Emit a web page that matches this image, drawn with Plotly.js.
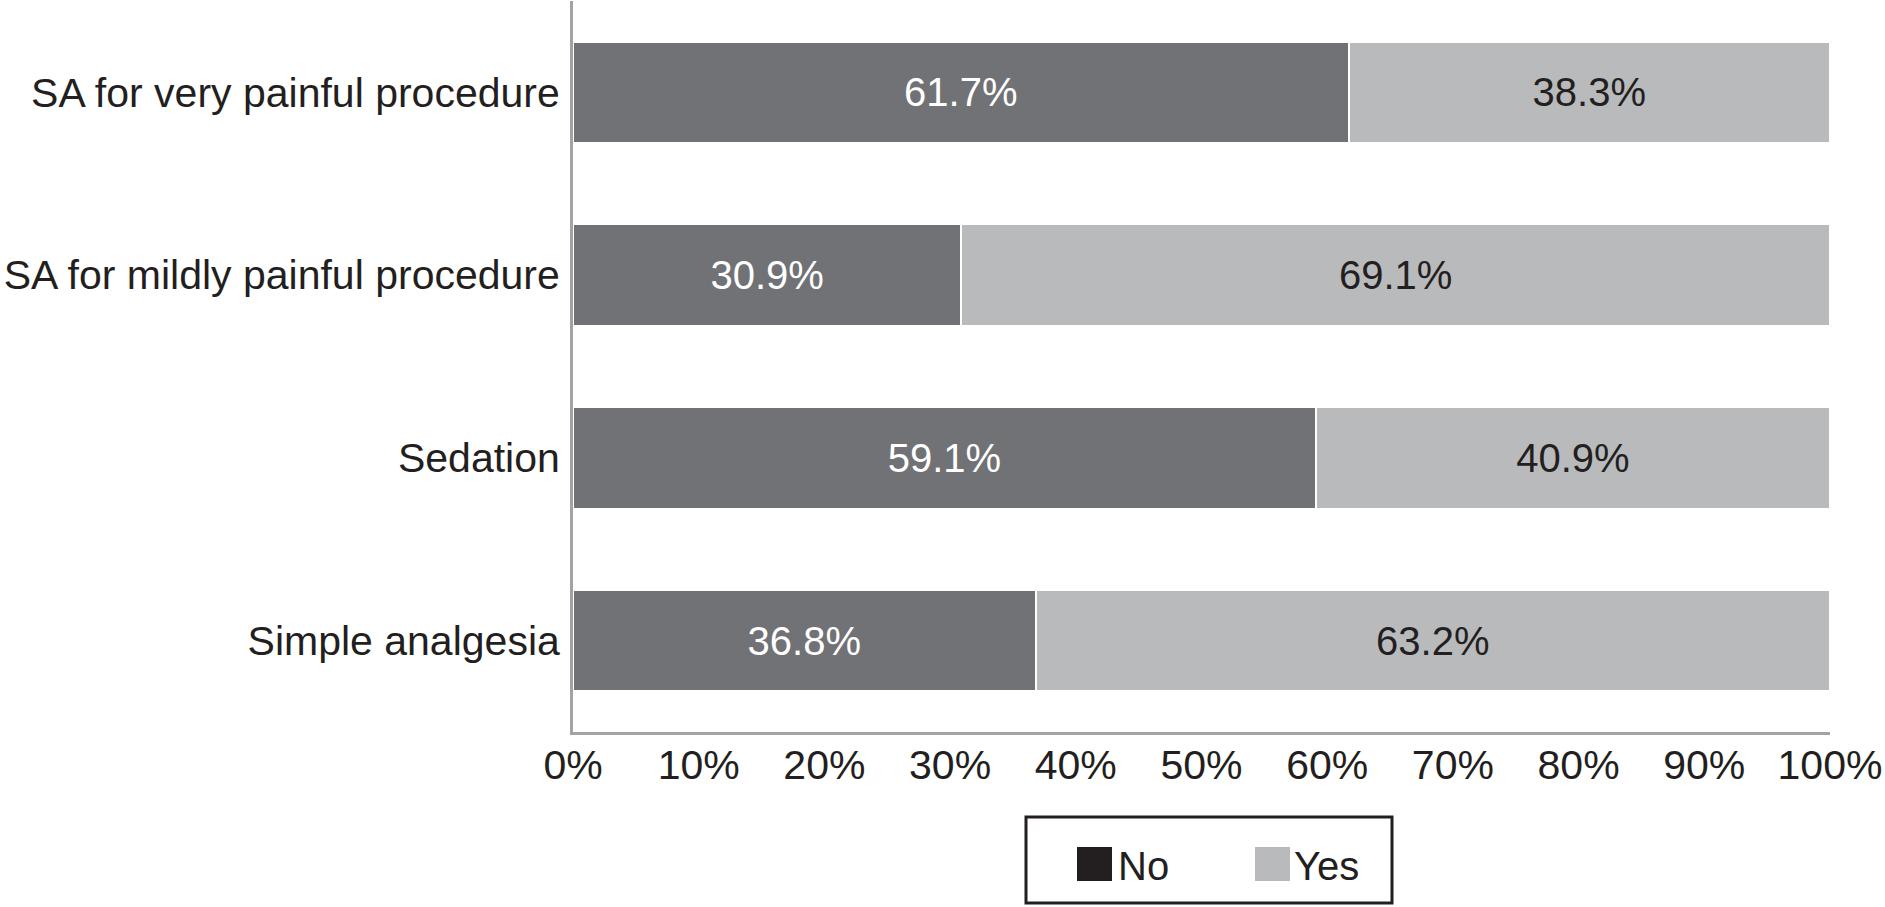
<!DOCTYPE html>
<html>
<head>
<meta charset="utf-8">
<script src="https://cdn.plot.ly/plotly-3.0.1.min.js"></script>
<style>html,body{margin:0;padding:0;background:#fff;}#chart{width:1885px;height:907px;}</style>
</head>
<body>
<div id="chart"></div>
<script>
const categories = ["Simple analgesia", "Sedation", "SA for mildly painful procedure", "SA for very painful procedure"];
const noValues = [36.8, 59.1, 30.9, 61.7];
const yesValues = [63.2, 40.9, 69.1, 38.3];
const seriesNames = ["No", "Yes"];
const tickVals = [0, 10, 20, 30, 40, 50, 60, 70, 80, 90, 100];
const tickText = ["0%", "10%", "20%", "30%", "40%", "50%", "60%", "70%", "80%", "90%", "100%"];

const FONT = "Liberation Sans, Arial, Helvetica, sans-serif";
const noColor = "#717275";
const yesColor = "#b9babc";
const legendNoColor = "#231f20";

const traces = [
  {
    type: "bar", orientation: "h", name: seriesNames[0],
    y: categories, x: noValues,
    text: noValues.map(v => v.toFixed(1) + "%"),
    textposition: "inside", insidetextanchor: "middle",
    textfont: {family: FONT, size: 40, color: "#ffffff"},
    marker: {color: noColor, line: {color: "#ffffff", width: 2}},
    showlegend: false, hoverinfo: "none"
  },
  {
    type: "bar", orientation: "h", name: seriesNames[1],
    y: categories, x: yesValues,
    text: yesValues.map(v => v.toFixed(1) + "%"),
    textposition: "inside", insidetextanchor: "middle",
    textfont: {family: FONT, size: 40, color: "#231f20"},
    marker: {color: yesColor, line: {color: "#ffffff", width: 2}},
    showlegend: false, hoverinfo: "none"
  }
];

// Legend drawn in paper coordinates (box, swatches, labels)
const W = 1885, H = 907;
const L = 573, R = 55, T = 1, B = 175;
const pw = W - L - R, ph = H - T - B;
function px(x) { return (x - L) / pw; }
function py(y) { return (H - B - y) / ph; }

const shapes = [
  {type: "rect", xref: "paper", yref: "paper", x0: px(1026), x1: px(1392), y0: py(817), y1: py(903),
   line: {color: "#231f20", width: 3}, fillcolor: "#ffffff"},
  {type: "rect", xref: "paper", yref: "paper", x0: px(1077), x1: px(1112), y0: py(847), y1: py(881),
   line: {width: 0}, fillcolor: legendNoColor},
  {type: "rect", xref: "paper", yref: "paper", x0: px(1255), x1: px(1290), y0: py(847), y1: py(881),
   line: {width: 0}, fillcolor: yesColor}
];
const annotations = [
  {xref: "paper", yref: "paper", x: px(1116), y: py(866), xanchor: "left", yanchor: "middle",
   text: seriesNames[0], showarrow: false, font: {family: FONT, size: 40, color: "#231f20"}},
  {xref: "paper", yref: "paper", x: px(1292), y: py(866), xanchor: "left", yanchor: "middle",
   text: seriesNames[1], showarrow: false, font: {family: FONT, size: 40, color: "#231f20"}}
];

const layout = {
  width: W, height: H,
  margin: {l: L, r: R, t: T, b: B, pad: 0},
  paper_bgcolor: "#ffffff", plot_bgcolor: "#ffffff",
  barmode: "stack", bargap: 0.445,
  showlegend: false,
  font: {family: FONT, color: "#231f20"},
  xaxis: {
    range: [0, 100], tickvals: tickVals, ticktext: tickText,
    showgrid: false, zeroline: false, showline: true, linecolor: "#a3a3a3", linewidth: 3,
    ticks: "", ticklabelstandoff: -5,
    tickfont: {family: FONT, size: 41, color: "#231f20"}, fixedrange: true
  },
  yaxis: {
    categoryorder: "array", categoryarray: categories,
    range: [-0.5, 3.5],
    showgrid: false, zeroline: false, showline: true, linecolor: "#a3a3a3", linewidth: 3,
    ticks: "", ticklabelstandoff: 2,
    tickfont: {family: FONT, size: 41, color: "#231f20"}, fixedrange: true
  },
  shapes: shapes, annotations: annotations
};

Plotly.newPlot("chart", traces, layout, {displayModeBar: false, staticPlot: true});
</script>
</body>
</html>
